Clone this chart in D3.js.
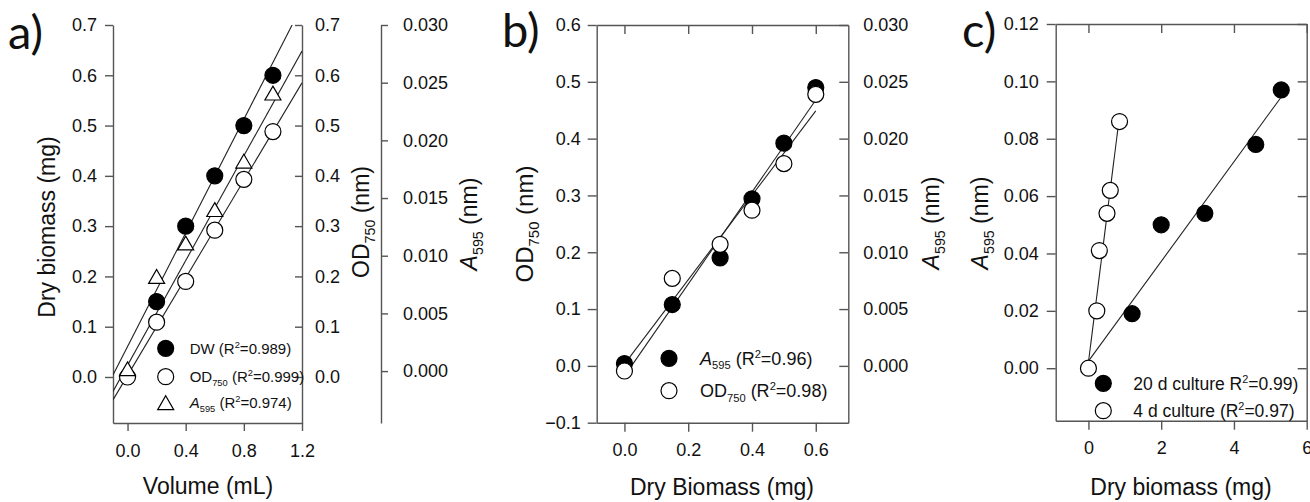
<!DOCTYPE html>
<html>
<head>
<meta charset="utf-8">
<script src="https://cdn.jsdelivr.net/npm/d3@7"></script>
<style>
  body { margin: 0; background: #fff; }
  svg text { font-family: Arial, "Liberation Sans", sans-serif; fill: #111; }
  .axis path, .axis line { stroke: #555; stroke-width: 1.4; }
  .fit { stroke: #222; stroke-width: 1.1; fill: none; }
</style>
</head>
<body>
<svg id="chart" width="1310" height="502"></svg>
<script>
// ---- panel a: volume series
const aVolume = [0, 0.2, 0.4, 0.6, 0.8, 1.0];
const aDwVolume = [0.2, 0.4, 0.6, 0.8, 1.0];
const aDW = [0.15, 0.30, 0.40, 0.50, 0.60];
const aOD750 = [0.0, 0.109, 0.190, 0.292, 0.393, 0.488];
const aA595 = [0.0002, 0.0082, 0.0111, 0.0140, 0.0182, 0.0241];
// fitted lines [slope, intercept]
const aFitDW = [0.565, 0.0605];
const aFitOD = [0.485, 0.003];
const aFitA = [0.0227, 0.0005];

// ---- panel b: dry biomass series
const bBiomass = [0, 0.15, 0.3, 0.4, 0.5, 0.6];
const bA595 = [0.0002, 0.0054, 0.0095, 0.0147, 0.0196, 0.0245];
const bOD750 = [-0.009, 0.154, 0.214, 0.274, 0.356, 0.478];
const bFitA = [0.0405, -0.0009];
const bFitOD = [0.743, 0.003];

// ---- panel c: culture age
const c20dBiomass = [1.2, 2.0, 3.2, 4.6, 5.3];
const c20dA595 = [0.019, 0.050, 0.054, 0.078, 0.097];
const c4dBiomass = [0, 0.23, 0.30, 0.51, 0.60, 0.855];
const c4dA595 = [0, 0.020, 0.041, 0.054, 0.062, 0.086];
const cFit20d = [0.01738, 0.00245];
const cFit4d = [0.1005, 0.00208];

// ---- tick labels
const aXTicks = [0, 0.4, 0.8, 1.2];
const aYTicks = [0, 0.1, 0.2, 0.3, 0.4, 0.5, 0.6, 0.7];
const aA595Ticks = [0, 0.005, 0.01, 0.015, 0.02, 0.025, 0.03];
const bXTicks = [0, 0.2, 0.4, 0.6];
const bYTicks = [-0.1, 0, 0.1, 0.2, 0.3, 0.4, 0.5, 0.6];
const bA595Ticks = [0, 0.005, 0.01, 0.015, 0.02, 0.025, 0.03];
const cXTicks = [0, 2, 4, 6];
const cYTicks = [0, 0.02, 0.04, 0.06, 0.08, 0.1, 0.12];

const svg = d3.select('#chart');

// draws an axis and fixes the fonts
function drawAxis(gen, tx, ty) {
  const g = svg.append('g')
    .attr('class', 'axis')
    .attr('transform', `translate(${tx},${ty})`)
    .call(gen);
  g.attr('font-size', 18).attr('font-family', null);
  return g;
}

// text with sub / superscripts: parts = [[text, kind]]
function rich(parent, parts, size) {
  const t = parent.append('text').attr('font-size', size);
  let shift = 0;
  parts.forEach(([s, k]) => {
    const sp = t.append('tspan').text(s);
    let target = 0;
    if (k === 'sub') { sp.attr('font-size', size * 0.62); target = size * 0.25; }
    if (k === 'sup') { sp.attr('font-size', size * 0.62); target = -size * 0.4; }
    if (k === 'i') sp.attr('font-style', 'italic');
    if (target !== shift) sp.attr('dy', target - shift);
    shift = target;
  });
  return t;
}

function vTitle(parts, x, y, size) {
  const g = svg.append('g').attr('transform', `translate(${x},${y}) rotate(-90)`);
  rich(g, parts, size).attr('text-anchor', 'middle');
}
function hTitle(parts, x, y, size) {
  const g = svg.append('g').attr('transform', `translate(${x},${y})`);
  rich(g, parts, size).attr('text-anchor', 'middle');
}
function panelLabel(txt, x, y) {
  svg.append('text').attr('x', x).attr('y', y)
    .style('font-family', 'Lato, "Open Sans", sans-serif')
    .attr('font-size', 47).text(txt);
}

function circles(xs, ys, sx, sy, filled) {
  svg.append('g').selectAll('circle').data(xs).join('circle')
    .attr('cx', d => sx(d))
    .attr('cy', (d, i) => sy(ys[i]))
    .attr('r', 8)
    .attr('fill', filled ? '#000' : '#fff')
    .attr('stroke', '#000').attr('stroke-width', 1.2);
}
function triPath(cx, cy) {
  const s = 16, h = s * Math.sqrt(3) / 2;
  return `M${cx},${cy - h / 2}L${cx + s / 2},${cy + h / 2}L${cx - s / 2},${cy + h / 2}Z`;
}
function triangles(xs, ys, sx, sy) {
  svg.append('g').selectAll('path').data(xs).join('path')
    .attr('d', (d, i) => triPath(sx(d), sy(ys[i])))
    .attr('fill', '#fff').attr('stroke', '#000').attr('stroke-width', 1.2);
}
function fitLine(fit, x0, x1, sx, sy, clip) {
  const l = svg.append('line').attr('class', 'fit')
    .attr('x1', sx(x0)).attr('y1', sy(fit[0] * x0 + fit[1]))
    .attr('x2', sx(x1)).attr('y2', sy(fit[0] * x1 + fit[1]));
  if (clip) l.attr('clip-path', `url(#${clip})`);
}
function legendRow(x, y, kind, parts, size, gap) {
  if (kind === 'tri') {
    svg.append('path').attr('d', triPath(x, y)).attr('fill', '#fff')
      .attr('stroke', '#000').attr('stroke-width', 1.2);
  } else {
    svg.append('circle').attr('cx', x).attr('cy', y).attr('r', 8)
      .attr('fill', kind === 'filled' ? '#000' : '#fff')
      .attr('stroke', '#000').attr('stroke-width', 1.2);
  }
  const g = svg.append('g').attr('transform', `translate(${x + gap},${y + size * 0.36})`);
  rich(g, parts, size);
}

const fmt1 = d3.format('.1f'), fmt2 = d3.format('.2f'), fmt3 = d3.format('.3f');

// ================= panel a =================
const aL = 113, aR = 302, aT = 25, aB = 423;
const xA = d3.scaleLinear().domain([-0.1, 1.2]).range([aL, aR]);
const yA = d3.scaleLinear().domain([-0.0915, 0.7]).range([aB, aT]);
const yA3 = d3.scaleLinear().domain([-0.0045, 0.030]).range([aB, aT]);

svg.append('clipPath').attr('id', 'clipA')
  .append('rect').attr('x', aL).attr('y', aT).attr('width', aR - aL).attr('height', aB - aT);

drawAxis(d3.axisLeft(yA).tickValues(aYTicks).tickFormat(fmt1).tickSizeInner(8).tickSizeOuter(0).tickPadding(8), aL, 0);
drawAxis(d3.axisRight(yA).tickValues(aYTicks).tickFormat(fmt1).tickSizeInner(-7).tickSizeOuter(0).tickPadding(13), aR, 0);
drawAxis(d3.axisBottom(xA).tickValues(aXTicks).tickFormat(fmt1).tickSizeInner(8).tickSizeOuter(0).tickPadding(13), 0, aB);
drawAxis(d3.axisRight(yA3).tickValues(aA595Ticks).tickFormat(fmt3).tickSizeInner(7).tickSizeOuter(0).tickPadding(15), 381, 0);

fitLine(aFitDW, -0.1, 1.2, xA, yA, 'clipA');
fitLine(aFitOD, -0.1, 1.2, xA, yA, 'clipA');
fitLine(aFitA, -0.1, 1.2, xA, yA3, 'clipA');
circles(aDwVolume, aDW, xA, yA, true);
circles(aVolume, aOD750, xA, yA, false);
triangles(aVolume, aA595, xA, yA3);

legendRow(165.7, 348.3, 'filled', [['DW (R'], ['2', 'sup'], ['=0.989)']], 15, 24);
legendRow(165.7, 376.7, 'open', [['OD'], ['750', 'sub'], [' (R'], ['2', 'sup'], ['=0.999)']], 15, 24);
legendRow(165.7, 402.7, 'tri', [['A', 'i'], ['595', 'sub'], [' (R'], ['2', 'sup'], ['=0.974)']], 15, 24);

vTitle([['Dry biomass (mg)']], 55, 227, 23);
vTitle([['OD'], ['750', 'sub'], [' (nm)']], 369, 222, 23);
vTitle([['A', 'i'], ['595', 'sub'], [' (nm)']], 477, 224, 23);
hTitle([['Volume (mL)']], 208, 494, 23);
panelLabel('a)', 8, 49);

// ================= panel b =================
const bL = 596.7, bR = 848.3, bT = 25, bB = 422.7;
const xB = d3.scaleLinear().domain([-0.087, 0.702]).range([bL, bR]);
const yB = d3.scaleLinear().domain([-0.1, 0.6]).range([bB, bT]);
const yB2 = d3.scaleLinear().domain([-0.005, 0.030]).range([bB, bT]);

drawAxis(d3.axisLeft(yB).tickValues(bYTicks).tickFormat(fmt1).tickSizeInner(9).tickSizeOuter(0).tickPadding(7), bL, 0);
drawAxis(d3.axisRight(yB2).tickValues(bA595Ticks).tickFormat(fmt3).tickSizeInner(-9).tickSizeOuter(0).tickPadding(15), bR, 0);
drawAxis(d3.axisBottom(xB).tickValues(bXTicks).tickFormat(fmt1).tickSizeInner(9).tickSizeOuter(0).tickPadding(12), 0, bB);
drawAxis(d3.axisTop(xB).tickValues(bXTicks).tickFormat('').tickSizeInner(-9).tickSizeOuter(0), 0, bT);

fitLine(bFitA, 0, 0.6, xB, yB2);
fitLine(bFitOD, 0, 0.6, xB, yB);
circles(bBiomass, bA595, xB, yB2, true);
circles(bBiomass, bOD750, xB, yB, false);

legendRow(669, 358.3, 'filled', [['A', 'i'], ['595', 'sub'], [' (R'], ['2', 'sup'], ['=0.96)']], 18, 31);
legendRow(669, 390.7, 'open', [['OD'], ['750', 'sub'], [' (R'], ['2', 'sup'], ['=0.98)']], 18, 31);

vTitle([['OD'], ['750', 'sub'], [' (nm)']], 533, 224, 24);
vTitle([['A', 'i'], ['595', 'sub'], [' (nm)']], 939, 223, 23);
hTitle([['Dry Biomass (mg)']], 722, 495, 23);
panelLabel('b)', 502, 47);

// ================= panel c =================
const cL = 1055.7, cR = 1306.7, cT = 24, cB = 420.7;
const xC = d3.scaleLinear().domain([-0.9, 6]).range([cL, cR]);
const yC = d3.scaleLinear().domain([-0.0183, 0.12]).range([cB, cT]);

drawAxis(d3.axisLeft(yC).tickValues(cYTicks).tickFormat(fmt2).tickSizeInner(9).tickSizeOuter(0).tickPadding(8), cL, 0);
drawAxis(d3.axisRight(yC).tickValues(cYTicks).tickFormat('').tickSizeInner(-9).tickSizeOuter(0), cR, 0);
drawAxis(d3.axisBottom(xC).tickValues(cXTicks).tickFormat(d3.format('d')).tickSizeInner(9).tickSizeOuter(0).tickPadding(12), 0, cB);
drawAxis(d3.axisTop(xC).tickValues(cXTicks).tickFormat('').tickSizeInner(-9).tickSizeOuter(0), 0, cT);

fitLine(cFit20d, 0, d3.max(c20dBiomass), xC, yC);
fitLine(cFit4d, 0, d3.max(c4dBiomass), xC, yC);
circles(c20dBiomass, c20dA595, xC, yC, true);
circles(c4dBiomass, c4dA595, xC, yC, false);

legendRow(1103.3, 383.3, 'filled', [['20 d culture R'], ['2', 'sup'], ['=0.99)']], 17.5, 30);
legendRow(1103.3, 410.7, 'open', [['4 d culture (R'], ['2', 'sup'], ['=0.97)']], 17.5, 30);

vTitle([['A', 'i'], ['595', 'sub'], [' (nm)']], 988, 223, 23);
hTitle([['Dry biomass (mg)']], 1181, 495, 23);
panelLabel('c)', 962, 47);
</script>
</body>
</html>
